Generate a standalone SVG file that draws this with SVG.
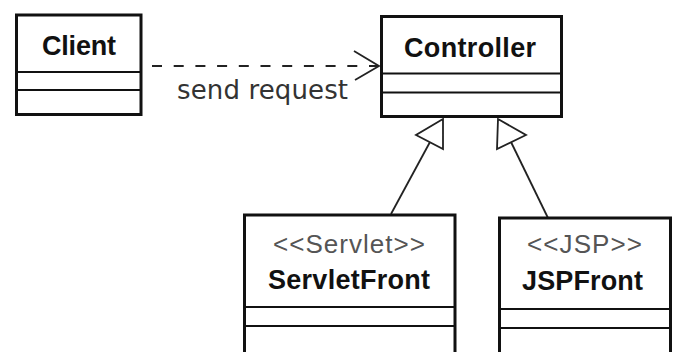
<svg xmlns="http://www.w3.org/2000/svg" width="683" height="352" viewBox="0 0 683 352">
  <style>
    .box { fill: #ffffff; stroke: #111111; stroke-width: 3; }
    .sep { stroke: #111111; stroke-width: 1.8; }
    .name { font-family: "Liberation Sans", Arial, sans-serif; font-weight: bold; font-size: 27px; fill: #111111; text-anchor: middle; }
    .stereo { font-family: "Liberation Sans", Arial, sans-serif; font-size: 26px; fill: #555555; text-anchor: middle; }
    .label { font-family: "DejaVu Sans", Verdana, sans-serif; font-size: 26px; fill: #333333; }
    .link { fill: none; stroke: #222222; stroke-width: 1.8; }
    .gen { fill: #ffffff; stroke: #222222; stroke-width: 1.8; stroke-linejoin: miter; }
  </style>
  <rect width="683" height="352" fill="#ffffff"/>

  <g id="connectors">
    <!-- dependency: Client to Controller -->
    <line class="link" x1="152" y1="66" x2="378" y2="66" stroke-dasharray="10 11.7"/>
    <polyline class="link" points="354,51 379,66 355,80"/>
    <text class="label" x="177" y="99" textLength="171">send request</text>
    <!-- generalization: ServletFront to Controller -->
    <line class="link" x1="391" y1="214" x2="430" y2="142"/>
    <polygon class="gen" points="443,119 416,135 443,149"/>
    <!-- generalization: JSPFront to Controller -->
    <line class="link" x1="548" y1="218" x2="511" y2="142"/>
    <polygon class="gen" points="498,119 526,135 497,149"/>
  </g>

  <g id="client">
    <rect class="box" x="16.5" y="15" width="124.5" height="99.5"/>
    <line class="sep" x1="16.5" y1="72" x2="141" y2="72"/>
    <line class="sep" x1="16.5" y1="90" x2="141" y2="90"/>
    <text class="name" x="79" y="55" textLength="74">Client</text>
  </g>

  <g id="controller">
    <rect class="box" x="381.5" y="16.5" width="180" height="100"/>
    <line class="sep" x1="381.5" y1="73.5" x2="561.5" y2="73.5"/>
    <line class="sep" x1="381.5" y1="92.5" x2="561.5" y2="92.5"/>
    <text class="name" x="470" y="57" textLength="132">Controller</text>
  </g>

  <g id="servletfront">
    <rect class="box" x="244.5" y="215" width="210.5" height="150"/>
    <line class="sep" x1="244.5" y1="307" x2="455" y2="307"/>
    <line class="sep" x1="244.5" y1="326" x2="455" y2="326"/>
    <text class="stereo" x="349" y="253" textLength="152">&lt;&lt;Servlet&gt;&gt;</text>
    <text class="name" x="349" y="289" textLength="162">ServletFront</text>
  </g>

  <g id="jspfront">
    <rect class="box" x="499.5" y="218" width="171" height="150"/>
    <line class="sep" x1="499.5" y1="309" x2="670.5" y2="309"/>
    <line class="sep" x1="499.5" y1="328" x2="670.5" y2="328"/>
    <text class="stereo" x="584.5" y="253" textLength="115">&lt;&lt;JSP&gt;&gt;</text>
    <text class="name" x="582.5" y="290" textLength="121">JSPFront</text>
  </g>
</svg>
